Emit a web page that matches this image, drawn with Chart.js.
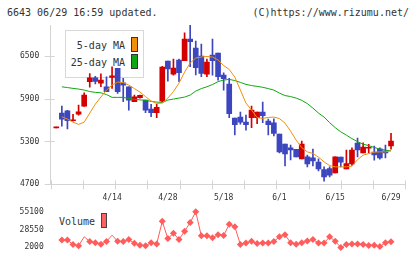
<!DOCTYPE html>
<html><head><meta charset="utf-8">
<script src="https://cdn.jsdelivr.net/npm/chart.js@4/dist/chart.umd.min.js"></script>
<style>
html,body{margin:0;padding:0;background:#fff;width:420px;height:259px;overflow:hidden;position:relative;font-family:"DejaVu Sans Mono",monospace;}
canvas{position:absolute;left:0;z-index:2;}
#main{top:0;}
#vol{top:200px;}
.t{position:absolute;font-size:10px;color:#333;white-space:pre;line-height:12px;z-index:1;}
.sw{position:absolute;z-index:1;border:1px solid #333;}
</style></head><body>
<div class="t" style="left:7px;top:7px">6643 06/29 16:59 updated.</div>
<div class="t" style="right:11px;top:7px">(C)https://www.rizumu.net/</div>
<div style="position:absolute;left:65px;top:30px;width:77px;height:46px;border:1px solid #d8d8d8;z-index:1"></div>
<div class="t" style="left:55px;width:70px;text-align:right;top:40px">5-day MA</div>
<div class="t" style="left:55px;width:70px;text-align:right;top:57px">25-day MA</div>
<div class="sw" style="left:131px;top:37px;width:5px;height:13px;background:#f0900a"></div>
<div class="sw" style="left:131px;top:54px;width:5px;height:13px;background:#10a810"></div>
<div class="t" style="left:59px;top:216px">Volume</div>
<div class="sw" style="left:101px;top:213px;width:4px;height:13px;background:#ff6060;border-color:#444"></div>
<canvas id="main" width="420" height="205"></canvas>
<canvas id="vol" width="420" height="59"></canvas>
<script>
const dates = ["3/31","4/1","4/2","4/3","4/6","4/7","4/8","4/9","4/10","4/13","4/14","4/15","4/16","4/17","4/20","4/21","4/22","4/23","4/24","4/27","4/28","4/30","5/1","5/7","5/8","5/11","5/12","5/13","5/14","5/15","5/18","5/19","5/20","5/21","5/22","5/25","5/26","5/27","5/28","5/29","6/1","6/2","6/3","6/4","6/5","6/8","6/9","6/10","6/11","6/12","6/15","6/16","6/17","6/18","6/19","6/22","6/23","6/24","6/25","6/26","6/29"];
const labelIdx = [10,20,30,40,50,60];
const priceTicks = [4700,5300,5900,6500];
const volTicks = [2000,28550,55100];

const open  = [5490,5697,5729,5590,5683,5795,6135,6190,6115,6065,6197,6323,6122,6065,5855,5911,5879,5753,5701,5865,6426,6243,6440,6430,6734,6608,6496,6243,6510,6538,6229,6103,5627,5641,5571,5631,5631,5711,5585,5561,5402,5262,5210,5188,5056,5084,5070,5010,4907,4921,4860,5080,4916,4986,5276,5140,5205,5150,5196,5168,5238];
const high  = [5500,5795,5735,5680,5809,5980,6250,6210,6245,6205,6346,6323,6183,6065,5949,5950,5879,5819,5823,6351,6426,6454,6454,6822,6930,6706,6664,6454,6734,6538,6262,6183,5627,5711,5669,5795,5711,5851,5613,5617,5402,5262,5248,5188,5304,5108,5192,5056,4944,4944,5084,5080,5178,5210,5346,5281,5258,5234,5210,5248,5412];
const low   = [5490,5514,5477,5585,5668,5790,6060,6105,6065,5995,6043,5973,5855,5739,5855,5905,5701,5645,5631,5855,6145,6229,6136,6430,6346,6230,6206,6206,6229,6159,6019,5631,5392,5543,5458,5491,5547,5561,5392,5378,5140,4958,5042,5084,5056,4944,4958,4888,4743,4804,4860,4944,4916,4963,5084,5140,5140,5038,5052,5070,5192];
const close = [5500,5613,5589,5600,5715,5949,6190,6140,6160,5995,6220,5995,6089,5879,5925,5944,5739,5701,5777,6342,6314,6328,6262,6734,6696,6332,6253,6412,6430,6206,6178,5687,5533,5571,5533,5739,5711,5659,5533,5412,5154,5126,5182,5084,5262,4986,5028,4916,4804,4827,5084,5010,4991,5178,5182,5220,5212,5112,5070,5140,5304];
const ma5   = [null,5645,5613,5570,5538,5570,5697,5823,5921,6019,6089,6131,6124,6089,6040,5991,5928,5865,5833,5837,5907,5998,6117,6271,6398,6468,6482,6489,6482,6440,6363,6307,6201,6019,5837,5739,5634,5622,5636,5641,5620,5556,5444,5318,5213,5154,5132,5080,5014,4961,4944,4944,4944,4954,5045,5108,5129,5150,5154,5154,5168];
const ma25  = [null,6065,6054,6043,6033,6019,5998,5987,5981,5956,5917,5917,5917,5900,5889,5882,5875,5861,5851,5844,5879,5893,5907,5921,5949,6005,6040,6065,6096,6138,6159,6169,6152,6127,6099,6082,6071,6058,6040,6019,5977,5942,5928,5907,5875,5830,5767,5697,5641,5563,5493,5434,5388,5339,5297,5262,5241,5216,5192,5178,5168];
const volume = [null,12700,12700,6000,4200,17600,10500,8700,6500,10500,20000,10900,10500,13600,7800,5100,4200,8700,6900,40800,14900,23000,13600,26100,39000,55100,19000,19000,16300,20700,19400,36400,32800,6000,8200,10900,7400,8200,8200,10500,17600,20700,8700,6500,8700,11400,13600,8200,8200,17600,10900,1700,6000,6900,6900,6000,4700,5100,2900,8700,10000];
const volHidden = [5,10];

const UP = '#d40000', DOWN = '#3c46be';
const candleColors = close.map((c,i)=> c >= open[i] ? UP : DOWN);
const xMin = -1, xMax = 62.56;
const AXIS = '#d4d4d4';
const FONT = {family:'DejaVu Sans Mono', size:8};
const plain = v => String(v);

const crossTicks = {
  id:'crossTicks',
  afterDraw(chart){
    const {ctx, chartArea:a, scales:{x,y}} = chart;
    ctx.save(); ctx.strokeStyle = AXIS; ctx.lineWidth = 1; ctx.beginPath();
    for (let k=0;k<=11;k++){
      const px = Math.round(x.getPixelForValue(xMin + k*(xMax-xMin)/11)) + 0.5;
      ctx.moveTo(px, a.bottom-4); ctx.lineTo(px, a.bottom+5);
    }
    for (const v of priceTicks){
      const py = Math.round(y.getPixelForValue(v)) + 0.5;
      ctx.moveTo(a.left-6, py); ctx.lineTo(a.left+4, py);
    }
    ctx.stroke(); ctx.restore();
  }
};

new Chart(document.getElementById('main'), {
  type:'bar',
  data:{datasets:[
    {type:'line', label:'5-day MA', data: ma5.map((v,i)=>({x:i,y:v})), borderColor:'#f0900a', borderWidth:1, pointRadius:0, order:0},
    {type:'line', label:'25-day MA', data: ma25.map((v,i)=>({x:i,y:v})), borderColor:'#10a810', borderWidth:1, pointRadius:0, order:0},
    {type:'bar', label:'body', data: open.map((o,i)=>({x:i,y:[o,close[i]]})), backgroundColor:candleColors, barThickness:5, minBarLength:1, grouped:false, order:1},
    {type:'bar', label:'wick', data: low.map((l,i)=>({x:i,y:[l,high[i]]})), backgroundColor:candleColors, barThickness:1, grouped:false, order:2}
  ]},
  options:{
    responsive:false, animation:false, devicePixelRatio:1,
    layout:{padding:{top:25,right:14.7,left:0,bottom:0}},
    plugins:{legend:{display:false}, tooltip:{enabled:false}},
    scales:{
      x:{type:'linear', min:xMin, max:xMax, offset:false,
        grid:{display:false, drawTicks:false}, border:{display:true, color:AXIS},
        afterBuildTicks:s=>{ s.ticks = labelIdx.map(v=>({value:v})); },
        ticks:{callback:v=>dates[v], font:FONT, color:'#333', padding:9, maxRotation:0, autoSkip:false},
        afterFit:s=>{ s.height = 20.7; }},
      y:{min:4700, max:6930,
        grid:{display:false, drawTicks:false}, border:{display:true, color:AXIS},
        afterBuildTicks:s=>{ s.ticks = priceTicks.map(v=>({value:v})); },
        ticks:{font:FONT, color:'#333', padding:11.5, callback:plain},
        afterFit:s=>{ s.width = 50.7; }}
    }
  },
  plugins:[crossTicks]
});

new Chart(document.getElementById('vol'), {
  type:'line',
  data:{datasets:[{
    label:'Volume', data: volume.map((v,i)=>({x:i,y:v})),
    borderColor:'#ff5c5c', backgroundColor:'#ff5c5c', borderWidth:1,
    pointStyle:'rectRot', pointRadius: volume.map((v,i)=> volHidden.includes(i) ? 0 : 3.5),
    pointBorderWidth:0, clip:false
  }]},
  options:{
    responsive:false, animation:false, devicePixelRatio:1,
    layout:{padding:{top:9.3,right:14.7,left:0,bottom:10}},
    plugins:{legend:{display:false}, tooltip:{enabled:false}},
    scales:{
      x:{type:'linear', min:xMin, max:xMax, display:false},
      y:{min:2000, max:55100,
        grid:{display:false, drawTicks:false}, border:{display:false},
        afterBuildTicks:s=>{ s.ticks = volTicks.map(v=>({value:v})); },
        ticks:{font:FONT, color:'#333', padding:7, callback:plain},
        afterFit:s=>{ s.width = 50.7; }}
    }
  }
});
</script>
</body></html>
